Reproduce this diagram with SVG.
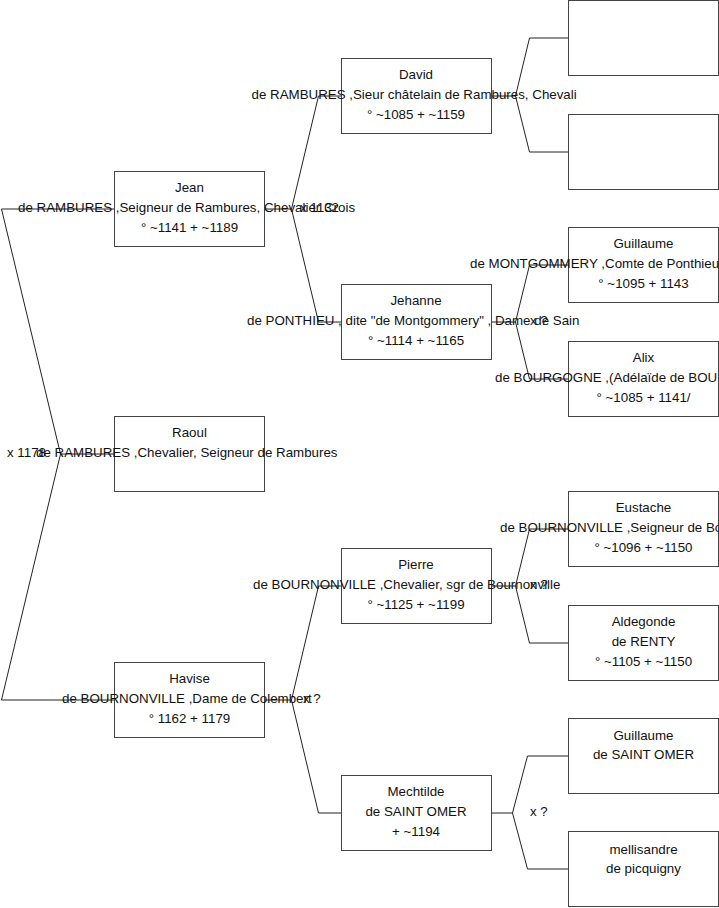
<svg xmlns="http://www.w3.org/2000/svg" width="719" height="908" viewBox="0 0 719 908">
<style>
  .box { fill: #ffffff; stroke: #444444; stroke-width: 1; }
  .conn { fill: none; stroke: #222222; stroke-width: 1; }
  text { font-family: "Liberation Sans", Arial, sans-serif; font-size: 13.33px; fill: #111111; }
  .c { text-anchor: middle; }
</style>
<rect x="0" y="0" width="719" height="908" fill="#ffffff"/>
<g id="connectors">
  <path class="conn" d="M114.5,209 H1.5 L60.5,454 H114.5 M60.5,454 L1.5,700 H114.5"/>
  <path class="conn" d="M264.5,209 H291.5 L318.5,96 H341.5 M291.5,209 L318.5,322 H341.5"/>
  <path class="conn" d="M264.5,700 H291.5 L318.5,586 H341.5 M291.5,700 L318.5,813 H341.5"/>
  <path class="conn" d="M491.5,96 H515.5 L529.5,38 H568.5 M515.5,96 L529.5,152 H568.5"/>
  <path class="conn" d="M491.5,322 H515.5 L529.5,265 H568.5 M515.5,322 L529.5,379 H568.5"/>
  <path class="conn" d="M491.5,586 H515.5 L529.5,529 H568.5 M515.5,586 L529.5,643 H568.5"/>
  <path class="conn" d="M491.5,813 H512.5 L527.5,756 H568.5 M512.5,813 L527.5,869 H568.5"/>
</g>
<g id="jean">
  <rect class="box" x="114.5" y="171.5" width="150" height="75"/>
  <text class="c" x="189.5" y="192">Jean</text>
  <text x="18" y="212">de RAMBURES ,Seigneur de Rambures, Chevalier Crois</text>
  <text class="c" x="189.5" y="231.5">° ~1141 + ~1189</text>
</g>
<g id="raoul">
  <rect class="box" x="114.5" y="416.5" width="150" height="75"/>
  <text class="c" x="189.5" y="437">Raoul</text>
  <text x="36" y="457">de RAMBURES ,Chevalier, Seigneur de Rambures</text>
</g>
<g id="havise">
  <rect class="box" x="114.5" y="662.5" width="150" height="75"/>
  <text class="c" x="189.5" y="683">Havise</text>
  <text x="62" y="703">de BOURNONVILLE ,Dame de Colembert</text>
  <text class="c" x="189.5" y="722.5">° 1162 + 1179</text>
</g>
<g id="david">
  <rect class="box" x="341.5" y="58.5" width="150" height="75"/>
  <text class="c" x="416" y="79">David</text>
  <text x="251.5" y="99">de RAMBURES ,Sieur châtelain de Rambures, Chevali</text>
  <text class="c" x="416" y="118.5">° ~1085 + ~1159</text>
</g>
<g id="jehanne">
  <rect class="box" x="341.5" y="284.5" width="150" height="75"/>
  <text class="c" x="416" y="305">Jehanne</text>
  <text x="247" y="325">de PONTHIEU , dite "de Montgommery" , Dame de Sain</text>
  <text class="c" x="416" y="344.5">° ~1114 + ~1165</text>
</g>
<g id="pierre">
  <rect class="box" x="341.5" y="548.5" width="150" height="75"/>
  <text class="c" x="416" y="569">Pierre</text>
  <text x="253" y="589">de BOURNONVILLE ,Chevalier, sgr de Bournonville</text>
  <text class="c" x="416" y="608.5">° ~1125 + ~1199</text>
</g>
<g id="mechtilde">
  <rect class="box" x="341.5" y="775.5" width="150" height="75"/>
  <text class="c" x="416" y="796">Mechtilde</text>
  <text class="c" x="416" y="816">de SAINT OMER</text>
  <text class="c" x="416" y="835.5">+ ~1194</text>
</g>
<g id="unknown-1">
  <rect class="box" x="568.5" y="0.5" width="150" height="75"/>
</g>
<g id="unknown-2">
  <rect class="box" x="568.5" y="114.5" width="150" height="75"/>
</g>
<g id="guillaume-montgommery">
  <rect class="box" x="568.5" y="227.5" width="150" height="75"/>
  <text class="c" x="643.5" y="248">Guillaume</text>
  <text x="470" y="268">de MONTGOMMERY ,Comte de Ponthieu</text>
  <text class="c" x="643.5" y="287.5">° ~1095 + 1143</text>
</g>
<g id="alix">
  <rect class="box" x="568.5" y="341.5" width="150" height="75"/>
  <text class="c" x="643.5" y="362">Alix</text>
  <text x="495" y="382">de BOURGOGNE ,(Adélaïde de BOU</text>
  <text class="c" x="643.5" y="401.5">° ~1085 + 1141/</text>
</g>
<g id="eustache">
  <rect class="box" x="568.5" y="491.5" width="150" height="75"/>
  <text class="c" x="643.5" y="512">Eustache</text>
  <text x="500" y="532">de BOURNONVILLE ,Seigneur de Bo</text>
  <text class="c" x="643.5" y="551.5">° ~1096 + ~1150</text>
</g>
<g id="aldegonde">
  <rect class="box" x="568.5" y="605.5" width="150" height="75"/>
  <text class="c" x="643.5" y="626">Aldegonde</text>
  <text class="c" x="643.5" y="646">de RENTY</text>
  <text class="c" x="643.5" y="665.5">° ~1105 + ~1150</text>
</g>
<g id="guillaume-saint-omer">
  <rect class="box" x="568.5" y="718.5" width="150" height="75"/>
  <text class="c" x="643.5" y="740">Guillaume</text>
  <text class="c" x="643.5" y="759">de SAINT OMER</text>
</g>
<g id="mellisandre">
  <rect class="box" x="568.5" y="831.5" width="150" height="75"/>
  <text class="c" x="643.5" y="854">mellisandre</text>
  <text class="c" x="643.5" y="873">de picquigny</text>
</g>
<g id="marriage-labels">
  <text x="7" y="457">x 1178</text>
  <text x="300" y="212">x 1132</text>
  <text x="303" y="703">x ?</text>
  <text x="530" y="325">x ?</text>
  <text x="530" y="589">x ?</text>
  <text x="530" y="816">x ?</text>
</g>
</svg>
